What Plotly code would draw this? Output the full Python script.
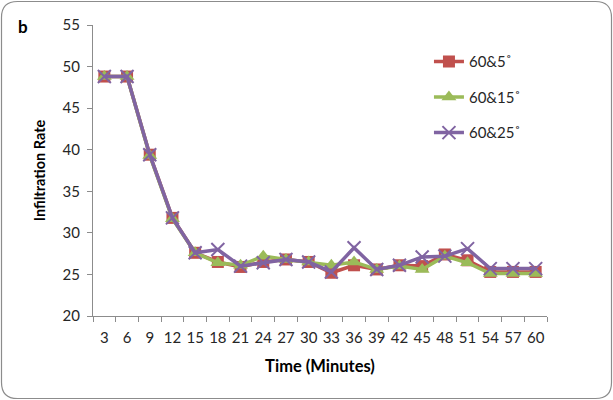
import plotly.graph_objects as go

times = [3, 6, 9, 12, 15, 18, 21, 24, 27, 30, 33, 36, 39, 42, 45, 48, 51, 54, 57, 60]
s5 = [48.8, 48.8, 39.4, 31.8, 27.6, 26.5, 25.9, 26.5, 26.8, 26.5, 25.2, 26.1, 25.6, 26.1, 26.0, 27.4, 26.7, 25.3, 25.3, 25.3]
s15 = [48.8, 48.8, 39.3, 31.7, 27.6, 26.4, 26.1, 27.2, 26.8, 26.5, 26.1, 26.5, 25.6, 26.0, 25.6, 27.2, 26.4, 25.1, 25.1, 25.1]
s25 = [48.8, 48.8, 39.4, 31.8, 27.6, 28.0, 26.0, 26.4, 26.8, 26.5, 25.3, 28.2, 25.6, 26.1, 27.1, 27.2, 28.1, 25.7, 25.7, 25.7]
names = ["60&5˚", "60&15˚", "60&25˚"]
colors = ["#C0504D", "#9BBB59", "#8064A2"]

cats = [str(t) for t in times]
FONT = "Lato, Calibri, sans-serif"

fig = go.Figure()
fig.add_trace(go.Scatter(x=cats, y=s5, name=names[0], mode="lines+markers", legendgroup="a",
                         line=dict(color=colors[0], width=3.5),
                         marker=dict(symbol="square", size=12, color=colors[0])))
fig.add_trace(go.Scatter(x=cats, y=s15, name=names[1], mode="lines+markers", legendgroup="b",
                         line=dict(color=colors[1], width=3.5),
                         marker=dict(symbol="triangle-up", size=13, color=colors[1])))
fig.add_trace(go.Scatter(x=cats, y=s25, name=names[2], mode="lines+markers", legendgroup="c",
                         line=dict(color=colors[2], width=3.5),
                         marker=dict(symbol="x-thin-open", size=13, color=colors[2],
                                     line=dict(color=colors[2], width=2))))

L, R, T, B = 93, 66, 25, 84
W, H = 613, 400
pw, ph = W - L - R, H - T - B

def px(x):
    return (x - L) / pw

def py(y):
    return (H - B - y) / ph

x0, x1, y0, y1 = 1.5, 611.5, 1.5, 398.5
r = 16
path = (f"M {px(x0+r)},{py(y0)} L {px(x1-r)},{py(y0)} Q {px(x1)},{py(y0)} {px(x1)},{py(y0+r)} "
        f"L {px(x1)},{py(y1-r)} Q {px(x1)},{py(y1)} {px(x1-r)},{py(y1)} "
        f"L {px(x0+r)},{py(y1)} Q {px(x0)},{py(y1)} {px(x0)},{py(y1-r)} "
        f"L {px(x0)},{py(y0+r)} Q {px(x0)},{py(y0)} {px(x0+r)},{py(y0)} Z")

fig.update_layout(
    width=W, height=H,
    margin=dict(l=L, r=R, t=T, b=B),
    paper_bgcolor="white", plot_bgcolor="white",
    font=dict(family=FONT, size=15, color="#262626"),
    showlegend=True,
    legend=dict(x=0.74, y=0.93, xanchor="left", yanchor="top", tracegroupgap=13,
                font=dict(family=FONT, size=15, color="#262626"), bgcolor="rgba(0,0,0,0)"),
    shapes=[dict(type="path", xref="paper", yref="paper", path=path,
                 line=dict(color="#8C8C8C", width=1.2), fillcolor="rgba(0,0,0,0)")],
    annotations=[dict(text="<b>b</b>", xref="paper", yref="paper", x=px(23), y=py(27),
                      xanchor="center", yanchor="middle",
                      showarrow=False, font=dict(family=FONT, size=17, color="black"))],
)
fig.update_xaxes(type="category", range=[-0.5, len(cats) - 0.5], showline=True, linecolor="#8C8C8C", linewidth=1,
                 ticks="outside", tickson="boundaries", ticklen=5, tickcolor="#8C8C8C",
                 tickangle=0, tickfont=dict(size=15), ticklabelstandoff=8,
                 showgrid=False, zeroline=False,
                 title=dict(text="<b>Time (Minutes)</b>", font=dict(family=FONT, size=16.5, color="black"), standoff=15))
fig.update_yaxes(range=[20, 55], dtick=5, showline=True, linecolor="#8C8C8C", linewidth=1,
                 ticks="outside", ticklen=5, tickcolor="#8C8C8C", showgrid=False, zeroline=False,
                 tickfont=dict(size=15), ticklabelstandoff=4,
                 title=dict(text="<b>Infiltration Rate</b>", font=dict(family=FONT, size=14.5, color="black"), standoff=13))

fig.write_html("out.html")
